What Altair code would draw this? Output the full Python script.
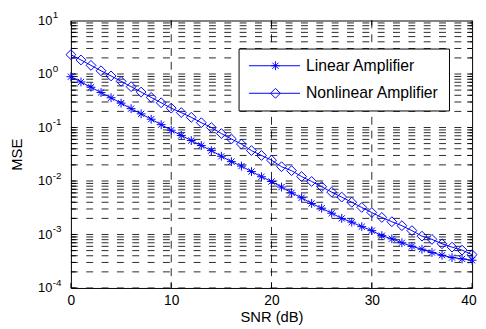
import altair as alt
import pandas as pd

# ---- data ----
snr_db = list(range(41))
linear_mse = [0.89, 0.71, 0.565, 0.45, 0.36, 0.285, 0.225, 0.18, 0.143, 0.113, 0.089,
              0.071, 0.057, 0.046, 0.037, 0.029, 0.023, 0.019, 0.015, 0.012, 0.0098,
              0.0077, 0.0060, 0.00485, 0.0038, 0.0031, 0.0025, 0.0020, 0.0017, 0.0014, 0.00118,
              0.00095, 0.00083, 0.00070, 0.00060, 0.00053, 0.00046, 0.00041, 0.00037, 0.00035, 0.00033]
nonlinear_mse = [2.3, 1.83, 1.45, 1.15, 0.92, 0.73, 0.58, 0.46, 0.365, 0.29, 0.23,
                 0.19, 0.155, 0.123, 0.100, 0.077, 0.061, 0.049, 0.037, 0.030, 0.0245,
                 0.0185, 0.0156, 0.0121, 0.0098, 0.0078, 0.0062, 0.0050, 0.0040, 0.0032, 0.00257,
                 0.00208, 0.00173, 0.00146, 0.00118, 0.00093, 0.00081, 0.00067, 0.00058, 0.00051, 0.00042]
series_names = ["Linear Amplifier", "Nonlinear Amplifier"]

x_ticks = [0, 10, 20, 30, 40]
y_ticks = [1e-4, 1e-3, 1e-2, 1e-1, 1, 10]
y_exponents = ["-4", "-3", "-2", "-1", "0", "1"]
y_grid = [m * 10.0 ** k for k in range(-4, 1) for m in range(1, 10)]
x_grid = [10, 20, 30]

W, H = 408, 272
BLUE = "#0000ff"
FONT = "Liberation Sans"

df = pd.DataFrame({
    "snr": snr_db * 2,
    "mse": linear_mse + nonlinear_mse,
    "series": [series_names[0]] * len(snr_db) + [series_names[1]] * len(snr_db),
})
ygrid_df = pd.DataFrame({"v": y_grid})
xgrid_df = pd.DataFrame({"v": x_grid})
xtick_df = pd.DataFrame({"v": x_ticks})
exp_df = pd.DataFrame({"v": y_ticks, "e": y_exponents})
one = pd.DataFrame({"k": [0]})

xscale = alt.Scale(domain=[0, 40], nice=False, zero=False)
yscale = alt.Scale(type="log", domain=[1e-4, 10], nice=False)

xaxis = alt.Axis(values=x_ticks, ticks=False, grid=False, domain=False, labelFlush=True,
                 labelFlushOffset=4, labelOverlap=False, labelPadding=6, labelFontSize=14,
                 labelColor="black", labelFont=FONT, title="SNR (dB)", titleFont=FONT,
                 titleFontSize=15, titleFontWeight="normal", titleColor="black",
                 titleX=W / 2, titleY=29, titleBaseline="middle", titleAlign="center")
yaxis = alt.Axis(values=y_ticks, labelExpr="'10'", ticks=False, grid=False, domain=False,
                 labelFlush=False, labelOverlap=False, labelPadding=19.5, labelFontSize=13,
                 labelColor="black", labelFont=FONT, labelBaseline="middle",
                 title="MSE", titleFont=FONT, titleFontSize=15, titleFontWeight="normal",
                 titleColor="black", titleX=-55, titleY=H / 2, titleAngle=270,
                 titleBaseline="middle", titleAlign="center")


def X(field):
    return alt.X(field, type="quantitative", scale=xscale, axis=xaxis)


def Y(field):
    return alt.Y(field, type="quantitative", scale=yscale, axis=yaxis)


dash = [7, 8.6]

hgrid = alt.Chart(ygrid_df).mark_rule(color="black", strokeWidth=1, strokeDash=dash, opacity=0.85).encode(
    y=Y("v"), x=alt.value(0), x2=alt.value(W))
vgrid = alt.Chart(xgrid_df).mark_rule(color="black", strokeWidth=1, strokeDash=[8, 6], opacity=0.85).encode(
    x=X("v"), y=alt.value(0), y2=alt.value(H))
lticks = alt.Chart(ygrid_df).mark_rule(color="black", strokeWidth=1).encode(
    y=Y("v"), x=alt.value(0), x2=alt.value(5))
rticks = alt.Chart(ygrid_df).mark_rule(color="black", strokeWidth=1).encode(
    y=Y("v"), x=alt.value(W - 5), x2=alt.value(W))
bticks = alt.Chart(xtick_df).mark_rule(color="black", strokeWidth=1).encode(
    x=X("v"), y=alt.value(H - 5), y2=alt.value(H))
tticks = alt.Chart(xtick_df).mark_rule(color="black", strokeWidth=1).encode(
    x=X("v"), y=alt.value(0), y2=alt.value(5))

ASTER = "M-1,0L1,0M0,-1L0,1M-0.7,-0.7L0.7,0.7M-0.7,0.7L0.7,-0.7"
ASTER_SIZE = 81
DIAM_SIZE = 100

base = alt.Chart(df)
lin_line = base.transform_filter(alt.datum.series == series_names[0]).mark_line(
    color=BLUE, strokeWidth=1).encode(x=X("snr"), y=Y("mse"))
lin_pts = base.transform_filter(alt.datum.series == series_names[0]).mark_point(
    shape=ASTER, filled=False, color=BLUE, size=ASTER_SIZE, strokeWidth=1, opacity=1).encode(
    x=X("snr"), y=Y("mse"))
non_line = base.transform_filter(alt.datum.series == series_names[1]).mark_line(
    color=BLUE, strokeWidth=1).encode(x=X("snr"), y=Y("mse"))
non_pts = base.transform_filter(alt.datum.series == series_names[1]).mark_point(
    shape="diamond", filled=False, color=BLUE, size=DIAM_SIZE, strokeWidth=1, opacity=1).encode(
    x=X("snr"), y=Y("mse"))

exps = alt.Chart(exp_df).mark_text(align="left", baseline="middle", fontSize=10, font=FONT,
                                   dy=-5.5, color="black").encode(
    y=Y("v"), x=alt.value(-18.5), text="e:N")

# legend box
L_X0, L_X1, L_Y0, L_Y1 = 171, 385, 29, 92
ROW1, ROW2 = 46, 74
leg_box = alt.Chart(one).mark_rect(fill="white", stroke="black", strokeWidth=1).encode(
    x=alt.value(L_X0), x2=alt.value(L_X1), y=alt.value(L_Y0), y2=alt.value(L_Y1))
leg_l1 = alt.Chart(one).mark_rule(color=BLUE, strokeWidth=1).encode(
    x=alt.value(181), x2=alt.value(233), y=alt.value(ROW1))
leg_l2 = alt.Chart(one).mark_rule(color=BLUE, strokeWidth=1).encode(
    x=alt.value(181), x2=alt.value(233), y=alt.value(ROW2))
leg_p1 = alt.Chart(one).mark_point(shape=ASTER, filled=False, color=BLUE, size=ASTER_SIZE,
                                   strokeWidth=1, opacity=1).encode(x=alt.value(208), y=alt.value(ROW1))
leg_p2 = alt.Chart(one).mark_point(shape="diamond", filled=False, color=BLUE, size=DIAM_SIZE,
                                   strokeWidth=1, opacity=1).encode(x=alt.value(208), y=alt.value(ROW2))
leg_t1 = alt.Chart(one).mark_text(text=series_names[0], align="left", baseline="middle",
                                  fontSize=16, font=FONT, color="black").encode(
    x=alt.value(239), y=alt.value(ROW1))
leg_t2 = alt.Chart(one).mark_text(text=series_names[1], align="left", baseline="middle",
                                  fontSize=16, font=FONT, color="black").encode(
    x=alt.value(239), y=alt.value(ROW2))

chart = alt.layer(
    hgrid, vgrid, lticks, rticks, bticks, tticks,
    lin_line, non_line, lin_pts, non_pts,
    leg_box, leg_l1, leg_l2, leg_p1, leg_p2, leg_t1, leg_t2,
    exps,
).properties(
    width=W, height=H,
    autosize=alt.AutoSizeParams(type="none"),
    padding={"left": 64, "top": 10, "right": 6, "bottom": 39},
    background="white",
).configure_view(stroke="black", strokeWidth=1)

chart.save("out.html", embed_options={"renderer": "svg", "actions": False})
